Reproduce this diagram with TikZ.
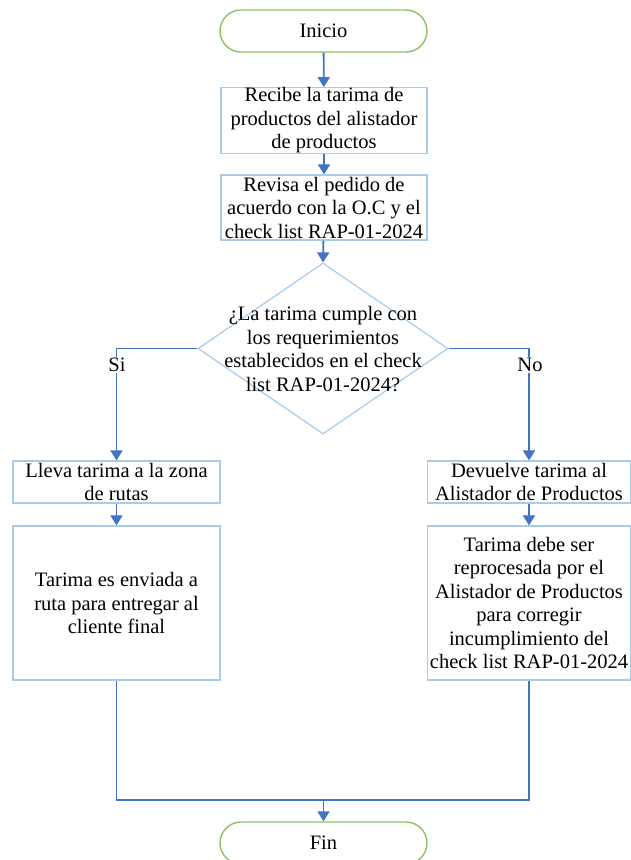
\documentclass[tikz,border=0pt]{standalone}
\usepackage{fontspec}
\setmainfont{Liberation Serif}
\usetikzlibrary{shapes.geometric,arrows.meta}
\definecolor{conn}{HTML}{4472C4}
\definecolor{boxb}{HTML}{A9CBEA}
\definecolor{term}{HTML}{8CC063}
\begin{document}
\begin{tikzpicture}[x=1pt,y=-1pt,
  every node/.style={font=\fontsize{20.5}{23.5}\selectfont, align=center, inner sep=0pt},
  termbox/.style={draw=term, line width=1.4pt, rounded corners=21pt, minimum width=207pt, minimum height=42pt},
  procbox/.style={draw=boxb, line width=1.2pt, minimum width=206pt},
  decbox/.style={draw=boxb, line width=1.2pt, shape=diamond, minimum width=250pt, minimum height=171pt},
  conline/.style={draw=conn, line width=1.8pt},
  arr/.style={conline, -{Triangle[width=12pt,length=10pt]}},
  lbl/.style={fill=white, inner sep=1pt}
]
\useasboundingbox (0,0) rectangle (630,860);
\node[termbox] (ini) at (323.5,31) {Inicio};
\node[procbox, minimum height=65pt] (b1) at (324,120.5) {Recibe la tarima de\\productos del alistador\\de productos};
\node[procbox, minimum height=65pt] (b2) at (324,207.5) {Revisa el pedido de\\acuerdo con la O.C y el\\check list RAP-01-2024};
\node[decbox] (d) at (323,348.5) {};
\node (dt) at (323,349) {¿La tarima cumple con\\los requerimientos\\establecidos en el check\\list RAP-01-2024?};
\node[procbox, minimum width=207pt, minimum height=42pt] (ll) at (116.5,482) {Lleva tarima a la zona\\de rutas};
\node[procbox, minimum width=207pt, minimum height=154pt] (te) at (116.5,603) {Tarima es enviada a\\ruta para entregar al\\cliente final};
\node[procbox, minimum width=203pt, minimum height=42pt] (dv) at (529,482) {Devuelve tarima al\\Alistador de Productos};
\node[procbox, minimum width=203pt, minimum height=154pt] (td) at (529,603) {Tarima debe ser\\reprocesada por el\\Alistador de Productos\\para corregir\\incumplimiento del\\check list RAP-01-2024};
\node[termbox] (fin) at (323.5,843) {Fin};
\coordinate (m) at (323.5,800);
\draw[arr] (ini) -- (b1);
\draw[arr] (b1) -- (b2);
\draw[arr] (b2) -- (d.north);
\draw[arr] (d.west) -| (ll.north);
\draw[arr] (d.east) -| (dv.north);
\draw[arr] (ll) -- (te);
\draw[arr] (dv) -- (td);
\draw[conline] (te.south) |- (m);
\draw[conline] (td.south) |- (m);
\draw[arr] (m) -- (fin.north);
\node[lbl] (si) at (117,365) {Si};
\node[lbl] (no) at (530,365) {No};
\end{tikzpicture}
\end{document}
